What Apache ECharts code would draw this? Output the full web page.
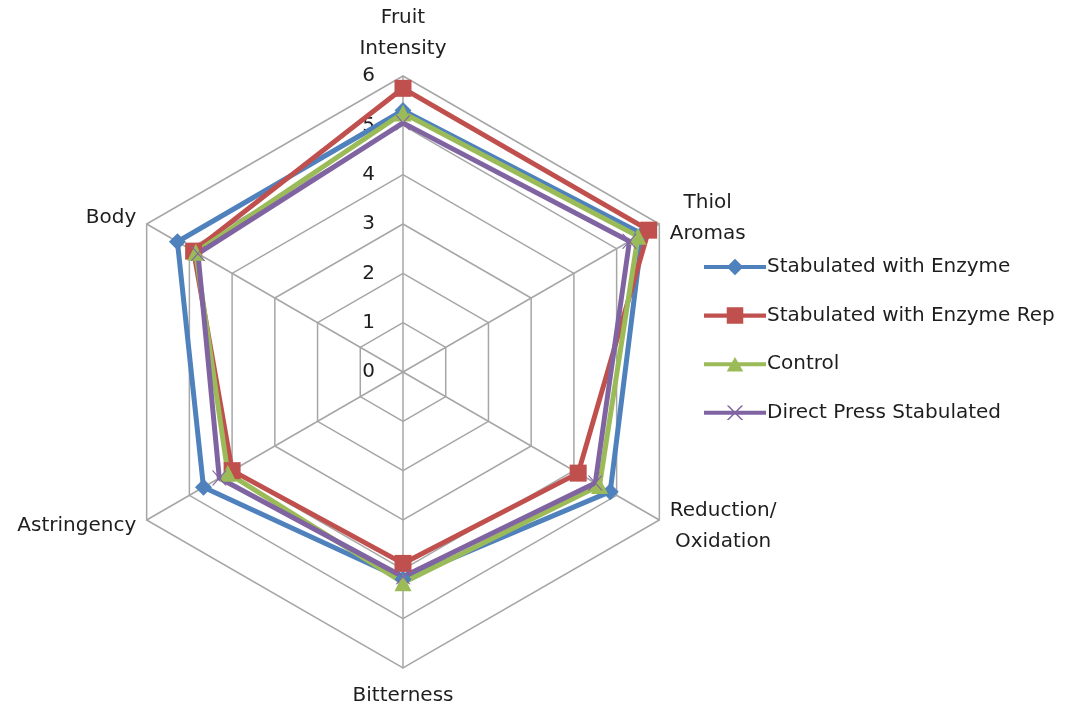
<!DOCTYPE html>
<html>
<head>
<meta charset="utf-8">
<script src="https://cdn.jsdelivr.net/npm/echarts@6/dist/echarts.min.js"></script>
<style>
  html, body { margin: 0; padding: 0; background: #fff; }
  #chart { width: 1077px; height: 708px; }
</style>
</head>
<body>
<div id="chart"></div>
<script>
// Sensory attributes, listed clockwise from the top
const attributes = ['Fruit\nIntensity', 'Thiol\nAromas', 'Reduction/\nOxidation', 'Bitterness', 'Astringency', 'Body'];
const seriesNames = ['Stabulated with Enzyme', 'Stabulated with Enzyme Rep', 'Control', 'Direct Press Stabulated'];
const stabEnzyme    = [5.3, 5.6, 4.85, 4.2, 4.67, 5.28];
const stabEnzymeRep = [5.75, 5.75, 4.1, 3.88, 4.0, 4.9];
const control       = [5.25, 5.5, 4.6, 4.27, 4.1, 4.85];
const directPress   = [5.05, 5.3, 4.5, 4.15, 4.3, 4.8];
const tickLabels = ['0', '1', '2', '3', '4', '5', '6'];
const axisMax = 6;

const FONT = 'DejaVu Sans';
const TEXT_COLOR = '#1e1e1e';
const colors = ['#4F81BD', '#C0504D', '#9BBB59', '#8064A2'];

// Point markers drawn on the data
const crossPath = 'path://M0,0 L2,0 L10,8 L18,0 L20,0 L11,9 L20,18 L18,18 L10,10 L2,18 L0,18 L9,9 Z';
const symbols = ['diamond', 'rect', 'triangle', crossPath];
const symbolSizes = [17, 17, 17, 15];

// Legend keys: a line segment with the series marker in the middle
const keyLine = 'M0,6 L60,6 L60,10 L0,10 Z ';
const legendIcons = [
  'path://' + keyLine + 'M30,0 L38,8 L30,16 L22,8 Z',
  'path://' + keyLine + 'M22,0 L38,0 L38,16 L22,16 Z',
  'path://' + keyLine + 'M30,1 L38,15 L22,15 Z',
  'path://' + keyLine + 'M22,1 L24,1 L30,7 L36,1 L38,1 L31,8 L38,15 L36,15 L30,9 L24,15 L22,15 L29,8 Z'
];

// ECharts radar runs counter-clockwise; reorder so attributes read clockwise
const order = [0, 5, 4, 3, 2, 1];
const reorder = arr => order.map(i => arr[i]);

const indicators = reorder(attributes).map((name, k) => ({
  name: name,
  min: 0,
  max: axisMax,
  axisLabel: k === 0 ? {
    show: true,
    formatter: v => tickLabels[v],
    color: TEXT_COLOR,
    fontSize: 20,
    fontFamily: FONT,
    margin: 28
  } : { show: false }
}));

const allData = [stabEnzyme, stabEnzymeRep, control, directPress];

const chart = echarts.init(document.getElementById('chart'), null, { renderer: 'canvas' });
chart.setOption({
  animation: false,
  backgroundColor: '#ffffff',
  color: colors,
  textStyle: { fontFamily: FONT },
  legend: {
    orient: 'vertical',
    left: 699,
    top: 252,
    itemGap: 28.6,
    itemWidth: 62,
    itemHeight: 18,
    textStyle: { fontSize: 20, color: TEXT_COLOR, fontFamily: FONT, padding: [0, 0, 0, -4] },
    data: seriesNames.map((n, i) => ({ name: n, icon: legendIcons[i] }))
  },
  radar: {
    center: [403, 372],
    radius: 296,
    startAngle: 90,
    splitNumber: 6,
    shape: 'polygon',
    indicator: indicators,
    axisName: {
      color: TEXT_COLOR,
      fontSize: 20,
      fontFamily: FONT,
      lineHeight: 31,
      formatter: name => name.split('\n').map(s => '{c|' + s + '}').join('\n'),
      rich: {
        c: { align: 'center', fontSize: 20, fontFamily: FONT, color: TEXT_COLOR, lineHeight: 31 }
      }
    },
    nameGap: 12,
    axisLine: { lineStyle: { color: '#A6A6A6', width: 1.5 } },
    splitLine: { lineStyle: { color: '#A6A6A6', width: 1.5 } },
    splitArea: { show: false },
    axisTick: { show: false },
    axisLabel: { show: true }
  },
  series: seriesNames.map((n, i) => ({
    name: n,
    type: 'radar',
    symbol: symbols[i],
    symbolSize: symbolSizes[i],
    lineStyle: { width: 5, color: colors[i] },
    itemStyle: { color: colors[i] },
    data: [{ name: n, value: reorder(allData[i]) }]
  }))
});
</script>
</body>
</html>
